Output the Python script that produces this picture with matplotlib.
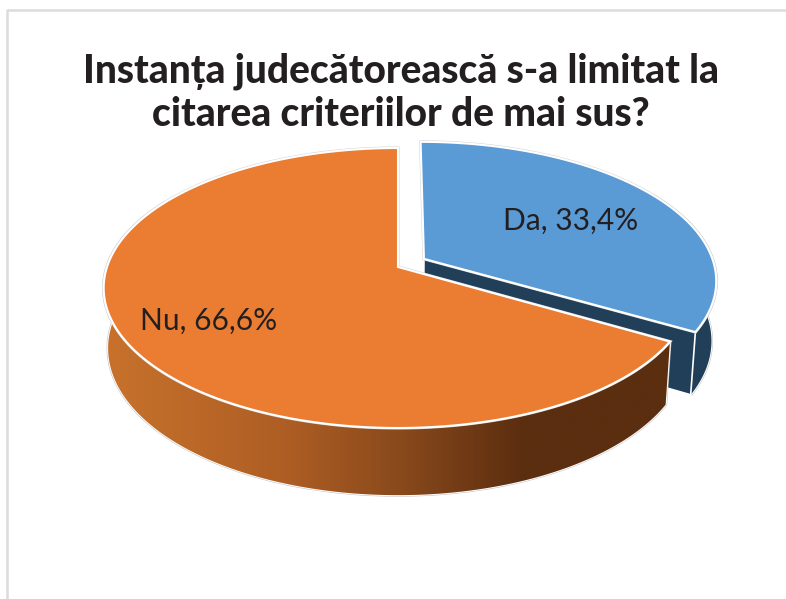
import numpy as np
import matplotlib
matplotlib.use('Agg')
import matplotlib.pyplot as plt
from matplotlib.colors import LinearSegmentedColormap
from matplotlib.patches import Polygon

# chart values
labels = ['Da', 'Nu']
values = [33.4, 66.6]
colors = ['#5B9BD5', '#EA7D32']
title = 'Instanța judecătorească s-a limitat la\ncitarea criteriilor de mai sus?'

# pie geometry, all in figure pixels
CX, CY = 398, 267
RX, RY = 291, 136.85
PERSP = 0.15      # front of the pie looks bigger than the back
DEPTH = 60.5      # height of the walls
DEPTH_PERSP = 0.015
EXPLODE = (0.09, 0.06)   # how far the Da slice is pulled out
WALL_FROM, WALL_TO = 60, 300   # outside this the wall is hidden behind the top


def project(t_deg, r=1.0, z=0.0, shift=(0, 0)):
    # t is clockwise from 12 o'clock, y grows toward the viewer
    t = np.radians(t_deg)
    x = r * np.sin(t) + shift[0]
    y = -r * np.cos(t) - shift[1]
    s = 1 / (1 - PERSP * y + DEPTH_PERSP * z)
    return np.column_stack([CX + RX * x * s, CY + (RY * y + DEPTH * z) * s])


def draw_slice(ax, start, end, color, wall_cmap, base_z, shift=(0, 0)):
    ts = np.linspace(start, end, 300)
    top = project(ts, shift=shift)
    ts_wall = np.linspace(max(start, WALL_FROM), min(end, WALL_TO), 300)
    wall = np.vstack([project(ts_wall, shift=shift), project(ts_wall, z=1, shift=shift)[::-1]])

    # thin grey rim round the outside of the wall
    ax.add_patch(Polygon(wall, closed=True, fc='none', ec='#c4c4c4', lw=2.2, zorder=base_z))
    ax.add_patch(Polygon(wall, closed=True, fc='none', ec='white', lw=1.4, zorder=base_z))

    grad = np.linspace(0, 1, 256).reshape(1, -1)
    clip = Polygon(wall, closed=True, fc='none', ec='none', transform=ax.transData)
    ax.add_patch(clip)
    im = ax.imshow(grad, cmap=wall_cmap, extent=[100, 720, 600, 0], aspect='auto', zorder=base_z + 0.1)
    im.set_clip_path(clip)

    # flat face where the slice was cut, only the exploded slice shows it
    apex = project(np.array([end]), r=0, shift=shift)
    if shift != (0, 0):
        apex_b = project(np.array([end]), r=0, z=1, shift=shift)
        corner_b = project(np.array([end]), z=1, shift=shift)
        face = np.vstack([apex, top[-1:], corner_b, apex_b])
        ax.add_patch(Polygon(face, closed=True, fc='#213F58', ec='white', lw=1.2, zorder=base_z + 0.2))

    outline = np.vstack([apex, top])
    ax.add_patch(Polygon(outline, closed=True, fc=color, ec='#d4d4d4', lw=2.2, zorder=base_z + 0.3))
    ax.add_patch(Polygon(outline, closed=True, fc=color, ec='white', lw=1.5, zorder=base_z + 0.4))


fig = plt.figure(figsize=(7.86, 5.99), dpi=100)
ax = fig.add_axes([0, 0, 1, 1])
ax.set_xlim(0, 786)
ax.set_ylim(599, 0)
ax.axis('off')

# page frame, only the left and top edges are in the crop
ax.plot([7, 7, 786], [599, 10, 10], color='#dcdcdc', lw=1.8, zorder=1)

orange_wall = LinearSegmentedColormap.from_list('orange_wall', [
    (0.0, '#C8722C'), (0.3, '#AE5E24'), (0.48, '#8A4A1C'), (0.68, '#5C2E10'), (1.0, '#5C2E10')])
blue_wall = LinearSegmentedColormap.from_list('blue_wall', ['#213F58', '#213F58'])

sweep = np.cumsum([0] + values) / sum(values) * 360
# Da sits behind Nu
draw_slice(ax, sweep[0], sweep[1], colors[0], blue_wall, 2, shift=EXPLODE)
draw_slice(ax, sweep[1], sweep[2], colors[1], orange_wall, 3)

font = ['Lato', 'DejaVu Sans']
ax.text(401, 93, title, ha='center', va='center', fontsize=28, fontweight='black',
        family=font, color='#231F20', linespacing=1.2, zorder=5)

label_pos = [(571, 221), (209, 321)]
for name, val, pos in zip(labels, values, label_pos):
    txt = f'{name}, {val:.1f}%'.replace('.', ',')
    ax.text(pos[0], pos[1], txt, ha='center', va='center', fontsize=21.5,
            family=font, color='#231F20', zorder=5)

fig.savefig('out.png', dpi=100, facecolor='white')
